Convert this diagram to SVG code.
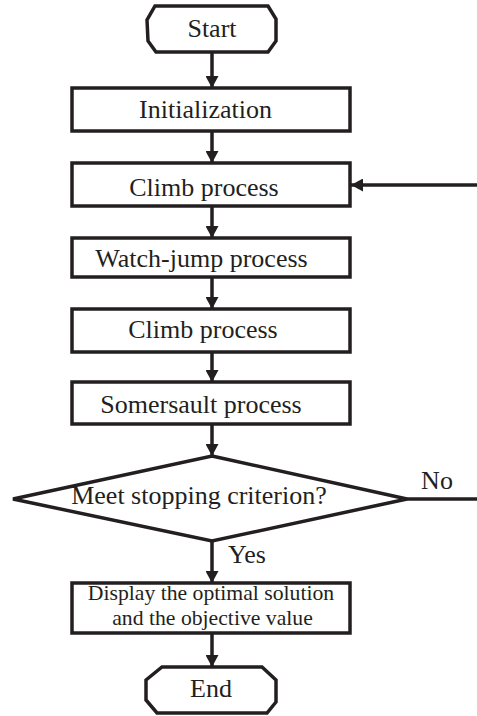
<svg xmlns="http://www.w3.org/2000/svg" width="477" height="716" viewBox="0 0 477 716">
<style>
.box{fill:#fff;stroke:#231f20;stroke-width:3.5;stroke-linejoin:miter}
.t{font-family:"Liberation Serif","Times New Roman",serif;font-size:26px;fill:#231f20;text-anchor:middle}
.ts{font-family:"Liberation Serif","Times New Roman",serif;font-size:21.7px;fill:#231f20;text-anchor:middle}
.c{fill:none;stroke:#231f20;stroke-width:3.5}
</style>
<defs>
<marker id="ah" viewBox="0 0 12 13" refX="12" refY="6.5" markerWidth="12" markerHeight="13" markerUnits="userSpaceOnUse" orient="auto">
<path d="M0,0 L12,6.5 L0,13 Z" fill="#231f20"/>
</marker>
</defs>
<rect width="477" height="716" fill="#fff"/>
<g id="connectors">
<line class="c" x1="212" y1="52" x2="212" y2="88" marker-end="url(#ah)"/>
<line class="c" x1="212" y1="131" x2="212" y2="163" marker-end="url(#ah)"/>
<line class="c" x1="212" y1="206" x2="212" y2="238" marker-end="url(#ah)"/>
<line class="c" x1="212" y1="277" x2="212" y2="309" marker-end="url(#ah)"/>
<line class="c" x1="212" y1="352" x2="212" y2="382" marker-end="url(#ah)"/>
<line class="c" x1="212" y1="424" x2="212" y2="456" marker-end="url(#ah)"/>
<line class="c" x1="212" y1="541" x2="212" y2="583" marker-end="url(#ah)"/>
<line class="c" x1="212" y1="633" x2="212" y2="667" marker-end="url(#ah)"/>
<line class="c" x1="477" y1="185" x2="351" y2="185" marker-end="url(#ah)"/>
<line class="c" x1="407" y1="499" x2="477" y2="499"/>
<text class="t" x="437" y="489">No</text>
<text class="t" x="247" y="563">Yes</text>
</g>
<g id="start">
<path class="box" d="M155,6 L268,6 L276,19 L276,41 L268,52 L156,52 L148,41 L147,20 Z"/>
<text class="t" x="212" y="37">Start</text>
</g>
<g id="init">
<rect class="box" x="72" y="88" width="278" height="43"/>
<text class="t" x="205.5" y="118">Initialization</text>
</g>
<g id="climb1">
<rect class="box" x="72" y="163" width="278" height="43"/>
<text class="t" x="204" y="196">Climb process</text>
</g>
<g id="watchjump">
<rect class="box" x="72" y="238" width="278" height="39"/>
<text class="t" x="201.5" y="267">Watch-jump process</text>
</g>
<g id="climb2">
<rect class="box" x="72" y="309" width="278" height="43"/>
<text class="t" x="203" y="338">Climb process</text>
</g>
<g id="somersault">
<rect class="box" x="72" y="382" width="278" height="42"/>
<text class="t" x="201" y="413">Somersault process</text>
</g>
<g id="decision">
<path class="box" d="M212,456 L407,499 L212,541 L13,499 Z"/>
<text class="t" x="199" y="504">Meet stopping criterion?</text>
</g>
<g id="display">
<rect class="box" x="72" y="583" width="278" height="50"/>
<text class="ts" x="211" y="600">Display the optimal solution</text>
<text class="ts" x="212.5" y="625">and the objective value</text>
</g>
<g id="end">
<path class="box" d="M162,667 L262,667 L276,680 L276,702 L267,713 L157,713 L146,700 L146,680 Z"/>
<text class="t" x="211" y="697">End</text>
</g>
</svg>
